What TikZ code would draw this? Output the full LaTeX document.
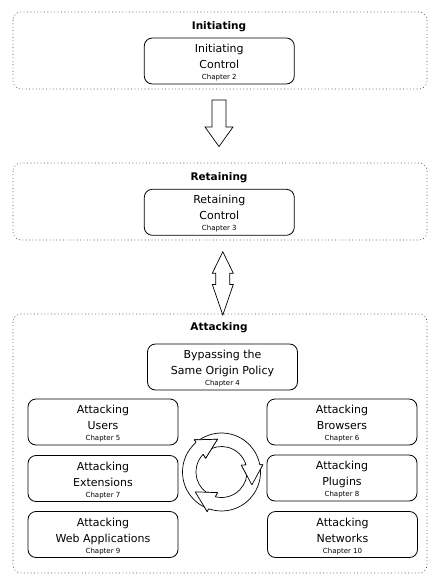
\documentclass[tikz,border=0pt]{standalone}
\usepackage{fontspec}
\setmainfont{DejaVu Sans}
\usetikzlibrary{calc}

\newcommand{\stagetext}[3]{\rule{0pt}{11.5pt}#1\\#2\\[-5pt]{\fontsize{7}{8}\selectfont #3}}

\begin{document}
\begin{tikzpicture}[x=1pt, y=-1pt,
	phase/.style={draw=black!75, line width=0.65pt, dash pattern=on 0.8pt off 2.6pt, rounded corners=8pt},
	phasetitle/.style={font=\fontsize{10.5}{12}\selectfont\bfseries},
	stagebox/.style={draw, line width=0.8pt, rounded corners=8pt, minimum width=150pt, minimum height=46pt, inner sep=0pt, align=center, font=\fontsize{11}{16}\selectfont},
	bigarrow/.style={draw, line width=0.7pt, fill=white},
	cyclearrow/.style={draw, line width=0.7pt, fill=white, line join=round}]
	\useasboundingbox (0,0) rectangle (438,583);

	% phases
	\draw [phase] (13,12) rectangle (427,89);
	\draw [phase] (13,163) rectangle (427,240);
	\draw [phase] (13,314) rectangle (427,573);
	\node [phasetitle] (initiating) at (219,27) {Initiating};
	\node [phasetitle] (retaining) at (219,177.5) {Retaining};
	\node [phasetitle] (attacking) at (219,328) {Attacking};

	% stages
	\node [stagebox] (initctrl) at (219.3,61) {\stagetext{Initiating}{Control}{Chapter 2}};
	\node [stagebox] (retctrl) at (219.3,212.3) {\stagetext{Retaining}{Control}{Chapter 3}};
	\node [stagebox] (sop) at (222.5,367) {\stagetext{Bypassing the}{Same Origin Policy}{Chapter 4}};
	\node [stagebox] (users) at (103,422) {\stagetext{Attacking}{Users}{Chapter 5}};
	\node [stagebox] (browsers) at (342,422) {\stagetext{Attacking}{Browsers}{Chapter 6}};
	\node [stagebox] (extensions) at (103,478.5) {\stagetext{Attacking}{Extensions}{Chapter 7}};
	\node [stagebox] (plugins) at (342,478) {\stagetext{Attacking}{Plugins}{Chapter 8}};
	\node [stagebox] (webapps) at (103,534.5) {\stagetext{Attacking}{Web Applications}{Chapter 9}};
	\node [stagebox] (networks) at (342.5,534.5) {\stagetext{Attacking}{Networks}{Chapter 10}};

	% block arrows between phases
	\draw [bigarrow] (212,100) -- (226,100) -- (226,127) -- (233,127) -- (219,146.5)
		-- (205,127) -- (212,127) -- cycle;
	\draw [bigarrow] (222.8,251.7) -- (233.3,273.3) -- (229.8,273.3) -- (229.8,284.5)
		-- (233.3,284.5) -- (222.8,315) -- (212.3,284.5) -- (215.8,284.5)
		-- (215.8,273.3) -- (212.3,273.3) -- cycle;

	% cycle of attacks
	\begin{scope}[shift={(221.5,472)}, yscale=-1]
		\foreach \b in {10,-110,130} {
			\draw [cyclearrow] ({\b+117}:39) arc [start angle=\b+117, end angle=\b+0.7, radius=39]
				-- (\b:42) -- ({\b-33}:33) -- ({\b+9}:21) -- ({\b+5.8}:25.5)
				arc [start angle=\b+5.8, end angle=\b+117, radius=25.5] -- cycle;
		}
		\foreach \b in {10,-110,130} {
			\fill [white] (\b:42) -- ({\b-33}:33) -- ({\b+9}:21) -- cycle;
			\draw [line width=0.7pt, line join=round] ({\b+5.8}:25.5) -- ({\b+9}:21)
				-- ({\b-33}:33) -- (\b:42) -- ({\b+0.7}:39);
		}
	\end{scope}
\end{tikzpicture}
\end{document}
